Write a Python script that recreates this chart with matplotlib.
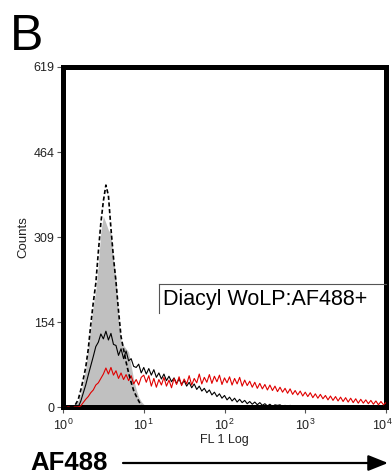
import numpy as np
import matplotlib
matplotlib.use("Agg")
import matplotlib.pyplot as plt
from matplotlib.transforms import ScaledTranslation

plt.rcParams['font.family'] = ['Liberation Sans', 'DejaVu Sans']
plt.rcParams['mathtext.fontset'] = 'custom'
plt.rcParams['mathtext.rm'] = 'Liberation Sans'
plt.rcParams['mathtext.it'] = 'Liberation Sans:italic'

# ---- data: FL1 histograms, 32 channels per decade, channel 0 = 10^0 ----
channels_per_decade = 32

gray_counts = [0, 0, 0, 0, 0, 4, 12, 25, 45, 70, 110, 145, 185, 212, 260, 320,
               347, 335, 322, 316, 268, 232, 160, 120, 112, 106, 100, 75, 50, 32,
               18, 10, 5, 2, 0]

dashed_counts = [0, 0, 0, 0, 0, 5, 13, 30, 50, 72, 105, 150, 190, 225, 282, 335,
                 375, 404, 385, 325, 272, 228, 175, 128, 105, 82, 62, 45, 30, 20,
                 11, 3, 0]

black_counts = [0, 0, 0, 0, 0, 0, 0, 10, 25, 40, 58, 75, 92, 110, 118, 133,
                124, 138, 122, 134, 114, 112, 94, 106, 88, 102, 84, 88, 74, 72,
                78, 62, 72, 60, 70, 58, 68, 54, 62, 51, 60, 48, 56, 46, 53, 43,
                51, 41, 48, 38, 45, 35, 42, 32, 38, 29, 34, 26, 31, 22, 27, 19,
                24, 16, 21, 13, 18, 11, 16, 9, 14, 8, 12, 6, 10, 5, 9, 4,
                8, 3, 6, 2, 5, 1, 4, 3, 4, 1, 3, 0, 3, 1, 2, 0, 2, 1,
                1, 0, 1, 0, 0, 1, 0, 0, 0, 0, 0, 0, 0, 0, 0, 0,
                0, 0, 0, 0, 0, 0, 0, 0, 0, 0, 0, 0, 0, 0, 0, 0, 0]

red_counts = [0, 0, 0, 0, 0, 0, 0, 2, 8, 14, 19, 26, 31, 40, 44, 52,
              60, 71, 60, 72, 58, 66, 52, 62, 50, 59, 48, 57, 42, 50, 40, 54,
              58, 45, 57, 38, 52, 36, 50, 40, 54, 38, 49, 35, 52, 41, 55, 39,
              51, 42, 57, 40, 52, 44, 60, 42, 54, 45, 59, 43, 56, 46, 58, 41,
              53, 44, 55, 40, 52, 42, 54, 38, 49, 39, 47, 36, 45, 34, 43, 33,
              41, 31, 40, 30, 38, 28, 36, 27, 34, 25, 33, 23, 30, 22, 29, 20,
              27, 19, 26, 17, 24, 16, 23, 15, 21, 13, 20, 12, 19, 11, 18, 10,
              17, 9, 16, 8, 15, 7, 14, 7, 13, 6, 12, 5, 11, 4, 10, 4, 8]

y_ticks = [0, 154, 309, 464, 619]
x_ticks = [1, 10, 100, 1000, 10000]
x_tick_labels = [r'$10^{0}$', r'$10^{1}$', r'$10^{2}$', r'$10^{3}$', r'$10^{4}$']

gate_start = 15.5      # FL1 value where the positive gate begins
gate_level = 224       # height of the gate bar (counts)
gate_drop = 171        # lower end of the gate's left tick
gate_label = 'Diacyl WoLP:AF488+'


def chan(counts):
    return 10 ** (np.arange(len(counts)) / channels_per_decade)


fig = plt.figure(figsize=(3.92, 4.76), dpi=100)
ax = fig.add_axes([63 / 392, 69 / 476, 323 / 392, 340 / 476])

ax.fill_between(chan(gray_counts), gray_counts, 0, color='#c0c0c0', lw=0, zorder=1)
ax.plot(chan(black_counts), black_counts, color='black', lw=0.8, zorder=3)
ax.plot(chan(red_counts), red_counts, color='#e00000', lw=0.8, zorder=4)
ax.plot(chan(dashed_counts), dashed_counts, color='black', lw=1.2,
        dashes=(2.5, 1.5), zorder=5)

ax.set_xscale('log')
ax.set_xlim(1, 10000)
ax.set_ylim(0, 619)
ax.set_xticks(x_ticks)
ax.set_xticklabels(x_tick_labels)
ax.xaxis.set_minor_locator(matplotlib.ticker.NullLocator())
ax.set_yticks(y_ticks)
ax.set_yticklabels([str(v) for v in y_ticks])
ax.tick_params(axis='both', direction='out', length=4.5, width=0.8,
               color='#555555', labelsize=9, labelcolor='#222222')
ax.tick_params(axis='y', pad=1.5)
ax.tick_params(axis='x', pad=3)

# keep the last x label inside the figure
last = ax.get_xticklabels()[-1]
last.set_transform(last.get_transform() + ScaledTranslation(-4 / 100, 0, fig.dpi_scale_trans))

for s in ax.spines.values():
    s.set_linewidth(3.6)
    s.set_color('black')

ax.set_ylabel('Counts', fontsize=9.5, color='#222222')
ax.yaxis.set_label_coords(-0.103, 0.5)
ax.set_xlabel('FL 1 Log', fontsize=9, color='#222222', labelpad=1)

# gate marker
ax.plot([gate_start, 10000], [gate_level, gate_level], color='#555555', lw=0.8,
        zorder=6, clip_on=False)
ax.plot([gate_start, gate_start], [gate_level, gate_drop], color='#555555',
        lw=0.8, zorder=6)
ax.text(gate_start * 1.13, gate_level - 9, gate_label, fontsize=15.5,
        va='top', ha='left', color='black', zorder=7)

fig.text(10 / 392, 1 - 50 / 476, 'B', fontsize=36, va='baseline', ha='left')
fig.text(30 / 392, 1 - 470 / 476, 'AF488', fontsize=18.5, fontweight='bold',
         va='baseline', ha='left')
fig.add_artist(matplotlib.patches.FancyArrowPatch(
    (123 / 392, 1 - 463 / 476), (388 / 392, 1 - 463 / 476),
    transform=fig.transFigure, arrowstyle='-|>,head_length=1.0,head_width=0.4',
    mutation_scale=12, lw=1.6, color='black', shrinkA=0, shrinkB=0))

fig.savefig('out.png', dpi=100)
